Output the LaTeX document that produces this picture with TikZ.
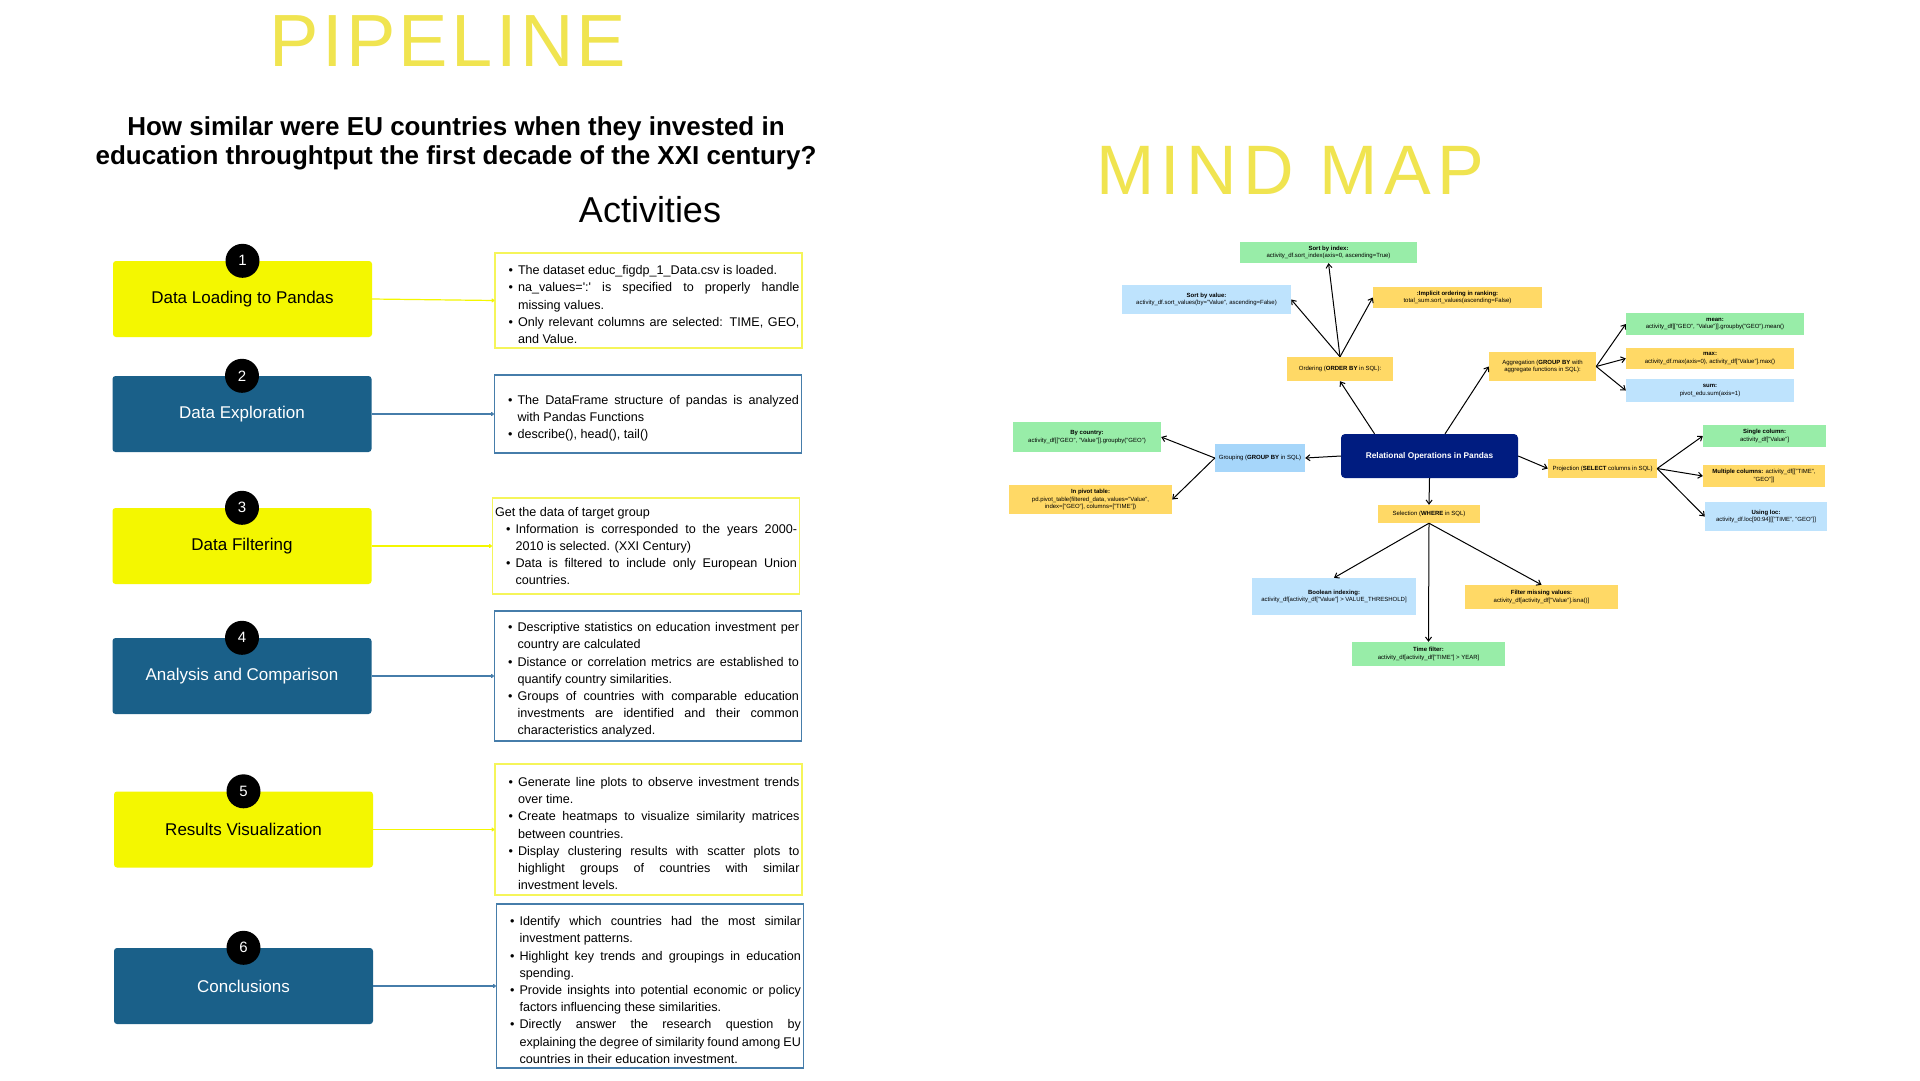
\documentclass[tikz,border=0pt]{standalone}
\usepackage{fontspec}
\setmainfont{Liberation Sans}
\usepackage{enumitem}
\usetikzlibrary{arrows.meta}

\definecolor{stepyellow}{RGB}{244,247,0}
\definecolor{stepblue}{RGB}{26,96,137}
\definecolor{titleyellow}{RGB}{240,228,80}
\definecolor{actyellow}{RGB}{245,245,90}
\definecolor{actblue}{RGB}{70,125,170}
\definecolor{mmnavy}{RGB}{0,28,128}
\definecolor{mmyellow}{RGB}{255,217,102}
\definecolor{mmgreen}{RGB}{152,237,168}
\definecolor{mmblue}{RGB}{190,227,253}
\definecolor{mmsky}{RGB}{166,214,250}

\hyphenpenalty=10000
\tolerance=9999
\emergencystretch=20pt

\newcommand{\mmfont}{\fontsize{6}{7.2}\selectfont}
\newcommand{\nl}{\linebreak}
\newcommand{\actend}{\par\vskip 10pt}
\newlist{acts}{itemize}{1}
\setlist[acts]{label=\textbullet, leftmargin=20.5pt, labelsep=5pt,
  itemsep=0pt, topsep=0pt, parsep=0pt, partopsep=0pt}

\begin{document}
\begin{tikzpicture}[x=1pt, y=-1pt,
  stepbox/.style={rounded corners=3pt, minimum width=259pt, minimum height=76pt,
    inner sep=0pt, font=\fontsize{17}{20}\selectfont},
  num/.style={circle, fill=black, text=white, minimum size=34pt, inner sep=0pt,
    font=\fontsize{15}{15}\selectfont},
  act/.style={draw, line width=1.2pt, text width=302pt, inner xsep=2.5pt,
    inner ysep=0pt, align=justify, font=\fontsize{12.6}{17.2}\selectfont,
    execute at end node=\actend},
  steparrow/.style={-{To[length=3pt,width=4pt]}, line width=1.2pt},
  mm/.style={inner sep=1pt, align=center, font=\mmfont},
  mmarrow/.style={-{Straight Barb[length=4pt,width=6pt]}, line width=1pt}]

  \fill[white] (0,0) rectangle (1920,1080);
  \useasboundingbox (0,0) rectangle (1920,1080);

  % titles
  \node[text=titleyellow, font=\fontsize{74}{74}\selectfont\addfontfeature{LetterSpace=4.5}]
    (pipeline) at (448,41) {PIPELINE};
  \node[align=center, font=\fontsize{26}{29}\selectfont\bfseries] (question) at (456,143)
    {How similar were EU countries when they invested in\\
     education throughtput the first decade of the XXI century?};
  \node[font=\fontsize{36}{36}\selectfont] (activities) at (650,210) {Activities};
  \node[text=titleyellow, font=\fontsize{70}{70}\selectfont\addfontfeature{LetterSpace=9}]
    (mindmap) at (1290,170) {MIND MAP};

  % activities
  \node[act, draw=actyellow, minimum height=95pt] (a1) at (648.5,300.5) {%
    \begin{acts}
    \item The dataset educ\_figdp\_1\_Data.csv is loaded.
    \item na\_values=\textquotesingle:\textquotesingle\ is specified to properly handle\nl missing values.
    \item Only relevant columns are selected: TIME, GEO,\nl and Value.
    \end{acts}};
  \node[act, draw=actblue, minimum height=78pt] (a2) at (648,414) {%
    \begin{acts}
    \item The DataFrame structure of pandas is analyzed\nl with Pandas Functions
    \item describe(), head(), tail()
    \end{acts}};
  \node[act, draw=actyellow, minimum height=96pt] (a3) at (646,546) {%
    Get the data of target group
    \begin{acts}
    \item Information is corresponded to the years 2000-\nl 2010 is selected. (XXI Century)
    \item Data is filtered to include only European Union\nl countries.
    \end{acts}};
  \node[act, draw=actblue, minimum height=130pt] (a4) at (648,676) {%
    \begin{acts}
    \item Descriptive statistics on education investment per\nl country are calculated
    \item Distance or correlation metrics are established to\nl quantify country similarities.
    \item Groups of countries with comparable education\nl investments are identified and their common\nl characteristics analyzed.
    \end{acts}};
  \node[act, draw=actyellow, minimum height=131pt] (a5) at (648.5,829.5) {%
    \begin{acts}
    \item Generate line plots to observe investment trends\nl over time.
    \item Create heatmaps to visualize similarity matrices\nl between countries.
    \item Display clustering results with scatter plots to\nl highlight groups of countries with similar\nl investment levels.
    \end{acts}};
  \node[act, draw=actblue, minimum height=164pt] (a6) at (650,986) {%
    \begin{acts}
    \item Identify which countries had the most similar\nl investment patterns.
    \item Highlight key trends and groupings in education\nl spending.
    \item Provide insights into potential economic or policy\nl factors influencing these similarities.
    \item Directly answer the research question by\nl explaining the degree of similarity found among EU\nl countries in their education investment.
    \end{acts}};

  % steps
  \foreach \i/\x/\y/\name/\fillc/\textc/\linec in {
      1/242.5/299/Data Loading to Pandas/stepyellow/black/stepyellow,
      2/242/414/Data Exploration/stepblue/white/actblue,
      3/242/546/Data Filtering/stepyellow/black/stepyellow,
      4/242/676/Analysis and Comparison/stepblue/white/actblue,
      5/243.5/829.5/Results Visualization/stepyellow/black/stepyellow,
      6/243.5/986/Conclusions/stepblue/white/actblue} {
    \node[stepbox, fill=\fillc, text=\textc] (s\i) at (\x,\y) {\name};
    \node[num] (n\i) at (s\i.north) {\i};
    \draw[steparrow, draw=\linec] (s\i.east) -- (a\i.west);
  }

  % mind map
  \node[mm, fill=mmnavy, text=white, rounded corners=4pt, minimum width=177pt, minimum height=44pt,
    font=\fontsize{8.3}{9}\selectfont\bfseries] (root) at (1429.5,456) {Relational Operations in Pandas};

  \node[mm, fill=mmyellow, minimum width=106pt, minimum height=24pt] (order) at (1340,369)
    {Ordering (\textbf{ORDER BY} in SQL):};
  \node[mm, fill=mmgreen, minimum width=177pt, minimum height=21pt] (sortidx) at (1328.5,252.5)
    {\textbf{Sort by index:}\\activity\_df.sort\_index(axis=0, ascending=True)};
  \node[mm, fill=mmblue, minimum width=169pt, minimum height=29pt] (sortval) at (1206.5,299.5)
    {\textbf{Sort by value:}\\activity\_df.sort\_values(by="Value", ascending=False)};
  \node[mm, fill=mmyellow, minimum width=169pt, minimum height=21pt] (implicit) at (1457.5,297.5)
    {\textbf{:Implicit ordering in ranking:}\\total\_sum.sort\_values(ascending=False)};

  \node[mm, fill=mmyellow, minimum width=107pt, minimum height=29pt] (aggr) at (1542.5,366.5)
    {Aggregation (\textbf{GROUP BY} with\\aggregate functions in SQL):};
  \node[mm, fill=mmgreen, minimum width=178pt, minimum height=22pt] (mean) at (1715,324)
    {\textbf{mean:}\\activity\_df[["GEO", "Value"]].groupby("GEO").mean()};
  \node[mm, fill=mmyellow, minimum width=168pt, minimum height=21pt] (max) at (1710,358.5)
    {\textbf{max:}\\activity\_df.max(axis=0), activity\_df["Value"].max()};
  \node[mm, fill=mmblue, minimum width=168pt, minimum height=23pt] (sum) at (1710,390.5)
    {\textbf{sum:}\\pivot\_edu.sum(axis=1)};

  \node[mm, fill=mmsky, minimum width=90pt, minimum height=28pt] (group) at (1260,458)
    {Grouping (\textbf{GROUP BY} in SQL)};
  \node[mm, fill=mmgreen, minimum width=148pt, minimum height=30pt] (bycountry) at (1087,437)
    {\textbf{By country:}\\activity\_df[["GEO", "Value"]].groupby("GEO")};
  \node[mm, fill=mmyellow, minimum width=163pt, minimum height=29pt] (pivot) at (1090.5,499.5)
    {\textbf{In pivot table:}\\pd.pivot\_table(filtered\_data, values="Value",\\index=["GEO"], columns=["TIME"])};

  \node[mm, fill=mmyellow, minimum width=109pt, minimum height=19pt] (proj) at (1602.5,468.5)
    {Projection (\textbf{SELECT} columns in SQL)};
  \node[mm, fill=mmgreen, minimum width=123pt, minimum height=22pt] (single) at (1764.5,436)
    {\textbf{Single column:}\\activity\_df["Value"]};
  \node[mm, fill=mmyellow, minimum width=122pt, minimum height=22pt] (multi) at (1764,476)
    {\textbf{Multiple columns:} activity\_df[["TIME",\\"GEO"]]};
  \node[mm, fill=mmblue, minimum width=122pt, minimum height=29pt] (loc) at (1766,516.5)
    {\textbf{Using loc:}\\activity\_df.loc[90:94][["TIME", "GEO"]]};

  \node[mm, fill=mmyellow, minimum width=102pt, minimum height=18pt] (select) at (1429,514)
    {Selection (\textbf{WHERE} in SQL)};
  \node[mm, fill=mmblue, minimum width=164pt, minimum height=37pt] (bool) at (1334,596.5)
    {\textbf{Boolean indexing:}\\activity\_df[activity\_df["Value"] > VALUE\_THRESHOLD]};
  \node[mm, fill=mmyellow, minimum width=153pt, minimum height=24pt] (missing) at (1541.5,597)
    {\textbf{Filter missing values:}\\activity\_df[activity\_df["Value"].isna()]};
  \node[mm, fill=mmgreen, minimum width=153pt, minimum height=24pt] (timef) at (1428.5,654)
    {\textbf{Time filter:}\\activity\_df[activity\_df["TIME"] > YEAR]};

  \draw[mmarrow] (root.158.7) -- (order.south);
  \draw[mmarrow] (root.55) -- (aggr.west);
  \draw[mmarrow] (root.west) -- (group.east);
  \draw[mmarrow] (root.east) -- (proj.west);
  \draw[mmarrow] (root.south) -- (select.north);
  \foreach \t/\a in {sortidx/south, sortval/east, implicit/west}
    \draw[mmarrow] (order.north) -- (\t.\a);
  \foreach \t in {mean, max, sum}
    \draw[mmarrow] (aggr.east) -- (\t.west);
  \foreach \t in {bycountry, pivot}
    \draw[mmarrow] (group.west) -- (\t.east);
  \foreach \t in {single, multi, loc}
    \draw[mmarrow] (proj.east) -- (\t.west);
  \foreach \t in {bool, timef, missing}
    \draw[mmarrow] (select.south) -- (\t.north);
\end{tikzpicture}
\end{document}
